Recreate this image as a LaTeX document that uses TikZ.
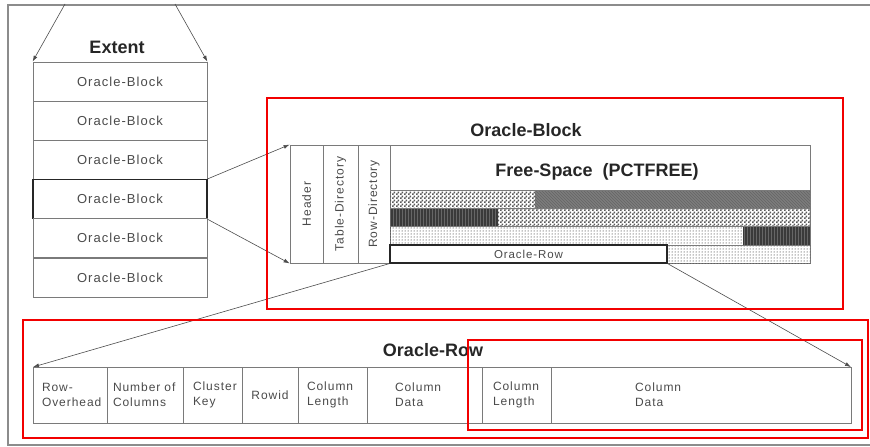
\documentclass[tikz,border=0pt]{standalone}
\usepackage{fontspec}
\setmainfont{Liberation Sans}
\newfontfamily\spaced[LetterSpace=8]{Liberation Sans}
\usetikzlibrary{arrows.meta,patterns}
\definecolor{frame}{HTML}{8C8C8C}
\definecolor{mark}{HTML}{F20000}
\definecolor{ink}{HTML}{4A4A4A}
\definecolor{edge}{HTML}{7A7A7A}
\definecolor{midfill}{HTML}{7C7C7C}
\definecolor{darkfill}{HTML}{3A3A3A}
\pgfdeclarepatternformonly{checker}{\pgfpointorigin}{\pgfpoint{4pt}{4pt}}{\pgfpoint{4pt}{4pt}}{
  \pgfpathrectangle{\pgfpointorigin}{\pgfpoint{2pt}{2pt}}
  \pgfpathrectangle{\pgfpoint{2pt}{2pt}}{\pgfpoint{2pt}{2pt}}
  \pgfusepath{fill}
}

\begin{document}
\begin{tikzpicture}[
  x=1pt,y=-1pt,
  blkbox/.style={draw=edge,line width=0.8pt,minimum width=174pt,minimum height=39pt,inner sep=0pt,text=ink,font=\spaced\fontsize{13}{15}\selectfont},
  title/.style={font=\bfseries\fontsize{18}{20}\selectfont,text=black!85},
  col/.style={draw=edge,line width=0.8pt,rotate=90,minimum width=118pt,inner sep=0pt,text=ink,font=\spaced\fontsize{12}{14}\selectfont},
  cell/.style={draw=edge,line width=0.8pt,anchor=west,outer sep=0pt,minimum height=56pt,inner ysep=0pt,align=left,text=ink,font=\spaced\fontsize{12}{15}\selectfont},
  redbox/.style={draw=mark,line width=2pt},
  link/.style={draw=black!70,line width=0.6pt,-{Latex[length=6pt,width=4pt]}},
]
  \useasboundingbox (0,0) rectangle (870,447);
  \draw[frame,line width=1.5pt] (870,5) -- (8,5) -- (8,445) -- (870,445);

  % Extent
  \node[title] (ext) at (117,47) {Extent};
  \node[blkbox] (b1) at (120,81.5) {Oracle-Block};
  \node[blkbox] (b2) at (120,120.7) {Oracle-Block};
  \node[blkbox] (b3) at (120,159.9) {Oracle-Block};
  \node[blkbox,draw=black!85,line width=1.5pt] (b4) at (120,199.1) {Oracle-Block};
  \node[blkbox] (b5) at (120,238.3) {Oracle-Block};
  \node[blkbox] (b6) at (120,277.5) {Oracle-Block};
  \coordinate (el) at (65,4);
  \coordinate (er) at (175,4);
  \draw[link] (el) -- (b1.north west);
  \draw[link] (er) -- (b1.north east);

  % Oracle-Block detail
  \node[title] (blktitle) at (526,130) {Oracle-Block};
  \node[draw=edge,line width=0.8pt,minimum width=520pt,minimum height=118pt,inner sep=0pt] (blk) at (550,204) {};
  \node[col,minimum height=33pt] (hdr) at (306.5,204) {Header};
  \node[col,minimum height=35pt] (tdir) at (340.5,204) {Table-Directory};
  \node[col,minimum height=32pt] (rdir) at (374,204) {Row-Directory};
  \node[title] (free) at (597,172) {Free-Space\ \ (PCTFREE)};

  % filled rows
  \path[pattern=checker,pattern color=black!65] (390,190) rectangle (535,208);
  \fill[midfill] (535,190) rectangle (810,208);
  \path[pattern=north west lines,pattern color=black!60] (535,190) rectangle (810,208);
  \fill[darkfill] (390,208) rectangle (498,226);
  \path[pattern=vertical lines,pattern color=black!60] (390,208) rectangle (498,226);
  \path[pattern=checker,pattern color=black!65] (498,208) rectangle (810,226);
  \path[pattern=dots,pattern color=black] (390,226) rectangle (743,245);
  \fill[darkfill] (743,226) rectangle (810,245);
  \path[pattern=vertical lines,pattern color=black!60] (743,226) rectangle (810,245);
  \path[pattern=dots,pattern color=black] (667,245) rectangle (810,263);
  \draw[edge,line width=0.5pt] (390,190) -- (810,190) (390,208) -- (810,208) (390,226) -- (810,226) (390,245) -- (810,245);
  \node[draw=black!85,line width=1.2pt,fill=white,minimum width=277pt,minimum height=18pt,inner sep=0pt,text=ink,font=\spaced\fontsize{11.5}{13}\selectfont] (orow) at (528.5,254) {Oracle-Row};

  \draw[link] (b4.north east) -- (blk.north west);
  \draw[link] (b4.south east) -- (blk.south west);

  % Oracle-Row detail
  \node[title] (rowtitle) at (433,350) {Oracle-Row};
  \node[cell,text width=56pt,inner xsep=9pt] (c1) at (33,395) {Row-\\Overhead};
  \node[cell,text width=64pt,inner xsep=6pt] (c2) at (c1.east) {Number of\\Columns};
  \node[cell,text width=39pt,inner xsep=10pt] (c3) at (c2.east) {Cluster\\Key};
  \node[cell,text width=48pt,inner xsep=4pt,align=center] (c4) at (c3.east) {Rowid};
  \node[cell,text width=51pt,inner xsep=9pt] (c5) at (c4.east) {Column\\Length};
  \node[cell,text width=59pt,inner xsep=28pt] (c6) at (c5.east) {Column\\Data};
  \node[cell,text width=47pt,inner xsep=11pt] (c7) at (c6.east) {Column\\Length};
  \node[cell,text width=132pt,inner xsep=84pt] (c8) at (c7.east) {Column\\Data};

  \draw[link] (orow.south west) -- (c1.north west);
  \draw[link] (orow.south east) -- (c8.north east);

  % red marks
  \draw[redbox] (267,98) rectangle (843,309);
  \draw[redbox] (23,320) rectangle (868,438);
  \draw[redbox] (468,340) rectangle (862,430);
\end{tikzpicture}
\end{document}
